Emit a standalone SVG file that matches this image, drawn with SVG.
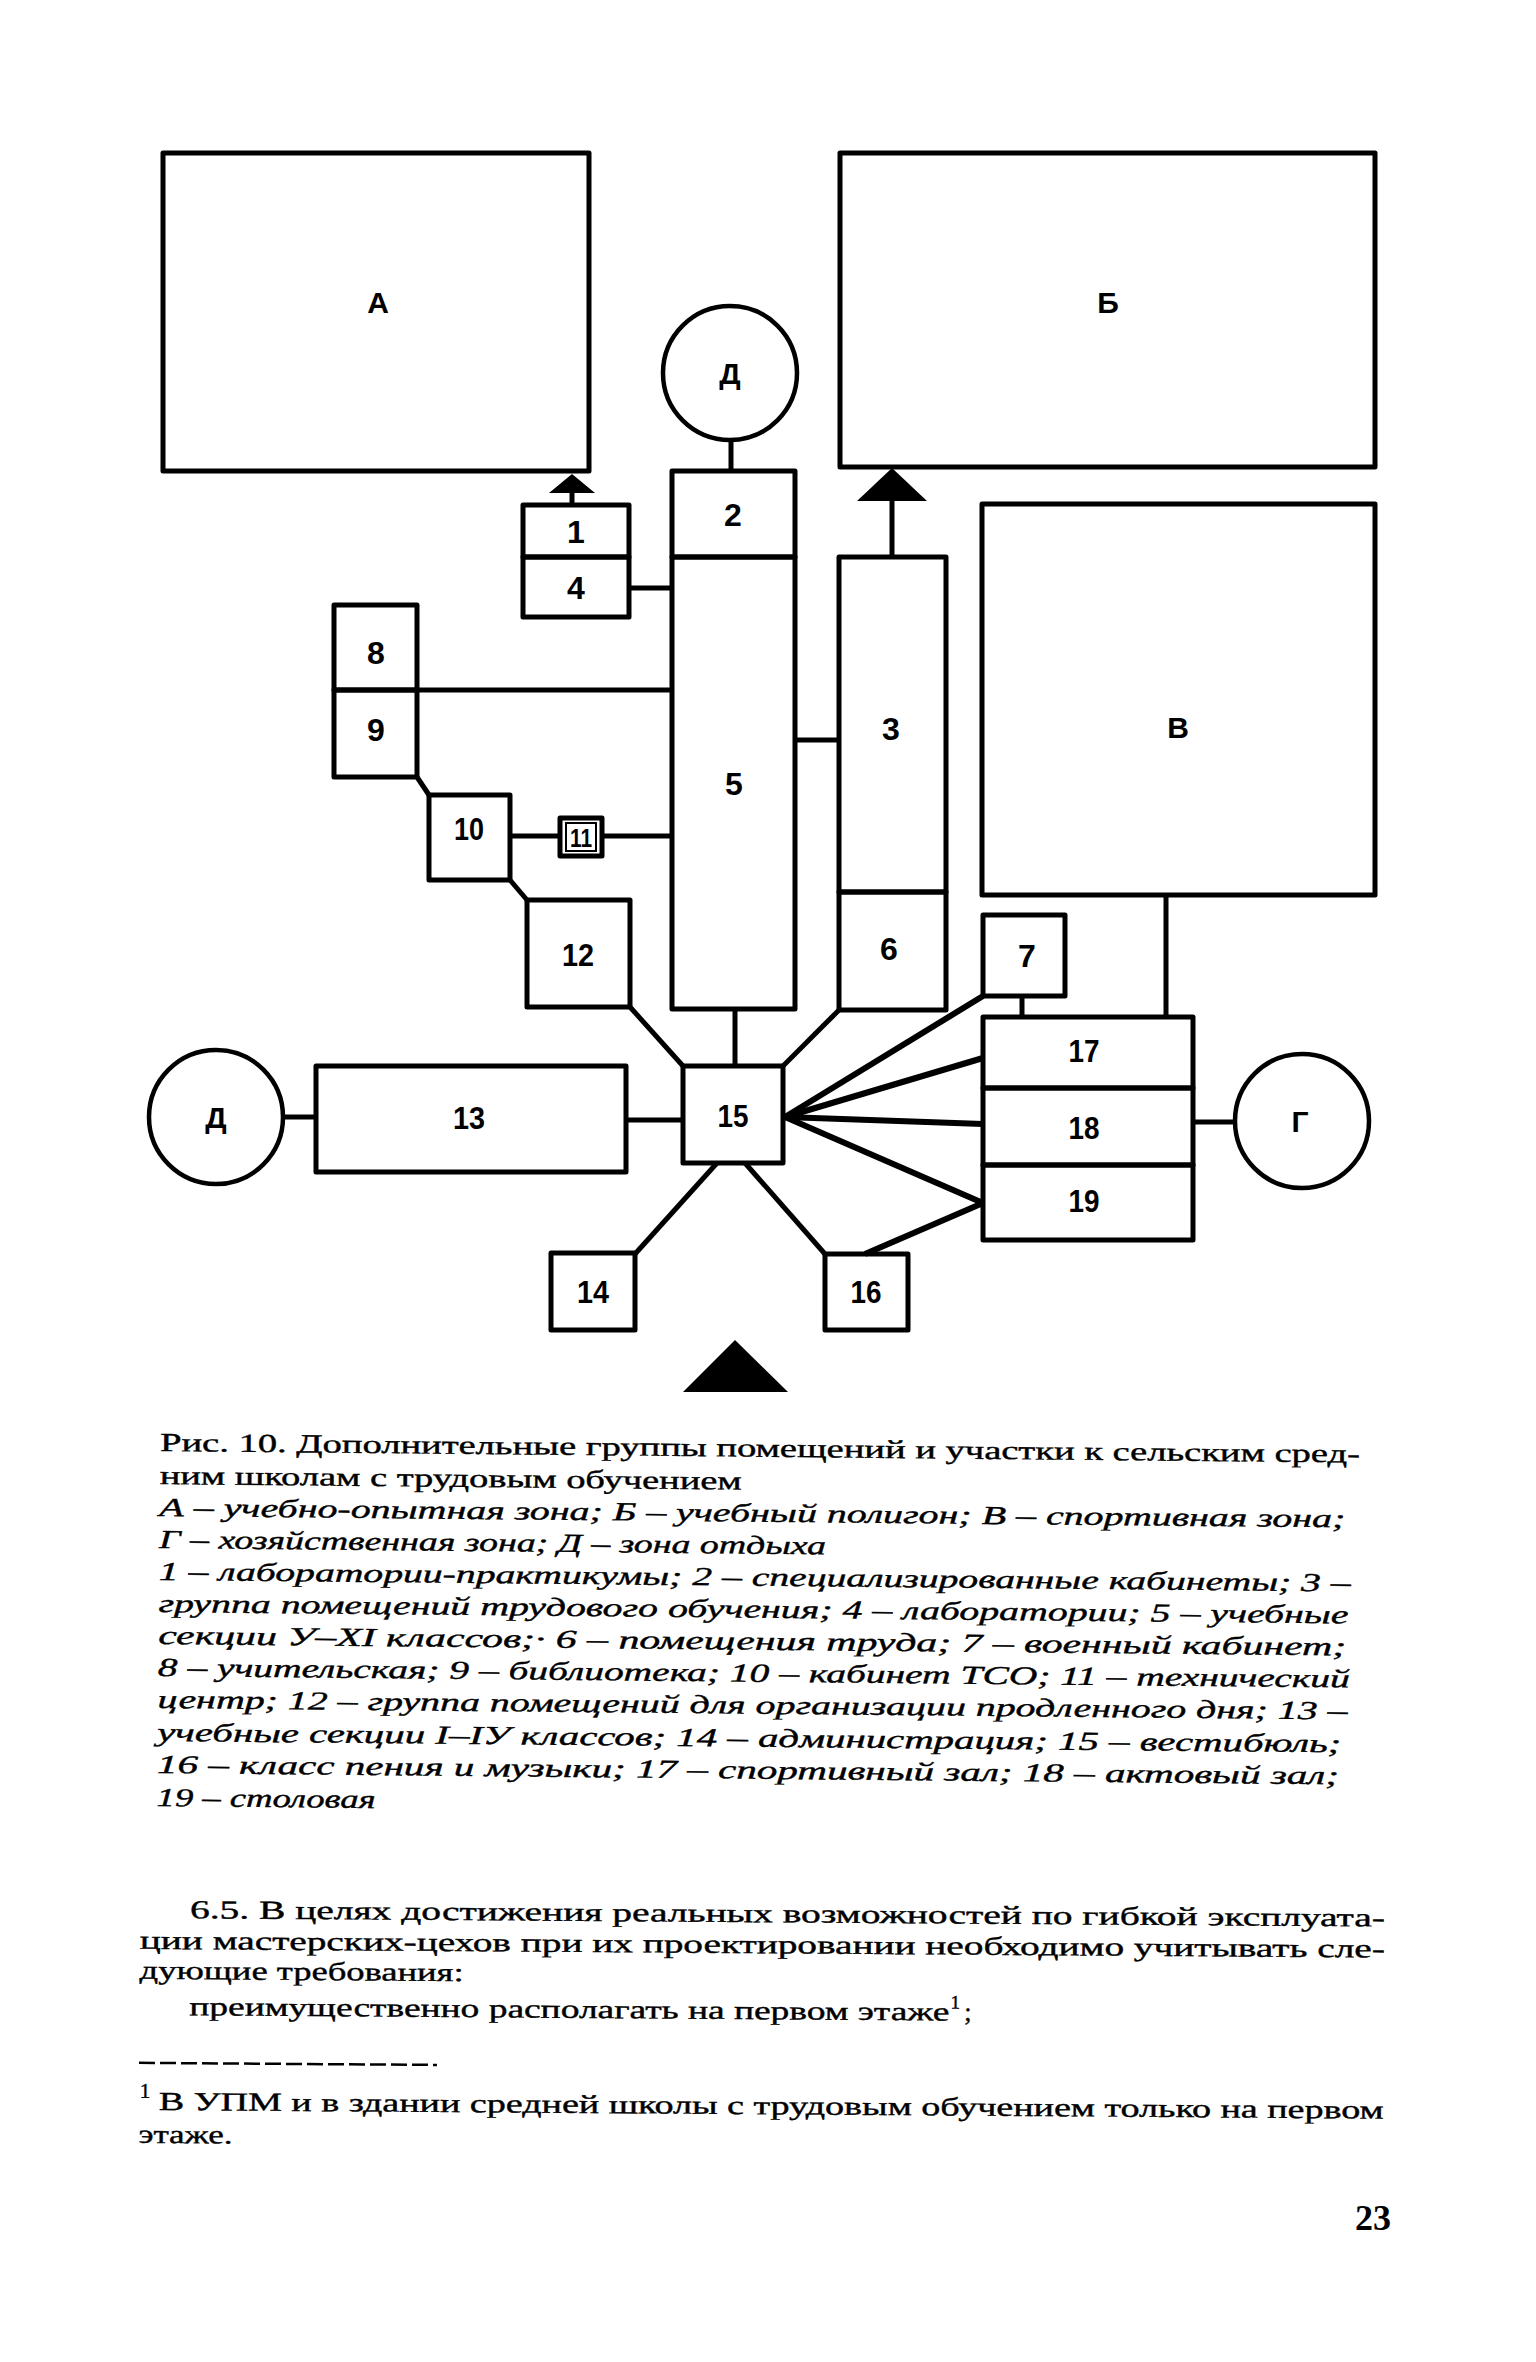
<svg xmlns="http://www.w3.org/2000/svg" width="1536" height="2362" viewBox="0 0 1536 2362">
<style>
.box{fill:none;stroke:#000;stroke-width:5;stroke-linejoin:round}
.circ{fill:none;stroke:#000;stroke-width:4.5}
.ln{fill:none;stroke:#000;stroke-width:5;stroke-linecap:butt}
.fan{fill:none;stroke:#000;stroke-width:6}
.tri{fill:#000;stroke:none}
.num{font-family:"Liberation Sans Narrow","Liberation Sans",Arial,sans-serif;font-weight:bold;font-size:32px;text-anchor:middle;fill:#000}
.let{font-family:"Liberation Sans","DejaVu Sans",Arial,sans-serif;font-weight:bold;font-size:30px;text-anchor:middle;fill:#000}
.cap{font-family:"Liberation Serif","Times New Roman",serif;font-size:26px;fill:#000;stroke:#000;stroke-width:0.4}
.it{font-style:italic}
.body{font-family:"Liberation Serif","Times New Roman",serif;font-size:26px;fill:#000;stroke:#000;stroke-width:0.4}
</style>
<rect width="1536" height="2362" fill="#fff"/>

<g id="connectors">
  <line class="ln" x1="572" y1="505" x2="572" y2="490"/>
  <polygon class="tri" points="572,474 549,493 595,493"/>
  <line class="ln" x1="892" y1="557" x2="892" y2="498"/>
  <polygon class="tri" points="892,468 857,501 927,501"/>
  <line class="ln" x1="731" y1="440" x2="731" y2="471"/>
  <line class="ln" x1="629" y1="588" x2="672" y2="588"/>
  <line class="ln" x1="417" y1="690" x2="672" y2="690"/>
  <line class="ln" x1="795" y1="740" x2="839" y2="740"/>
  <line class="ln" x1="417" y1="777" x2="429" y2="795"/>
  <line class="ln" x1="510" y1="836" x2="560" y2="836"/>
  <line class="ln" x1="602" y1="836" x2="672" y2="836"/>
  <line class="ln" x1="510" y1="880" x2="527" y2="900"/>
  <line class="ln" x1="630" y1="1007" x2="683" y2="1066"/>
  <line class="ln" x1="735" y1="1009" x2="735" y2="1066"/>
  <line class="ln" x1="839" y1="1010" x2="783" y2="1066"/>
  <line class="fan" x1="785" y1="1117" x2="983" y2="996"/>
  <line class="fan" x1="785" y1="1117" x2="983" y2="1058"/>
  <line class="fan" x1="785" y1="1117" x2="983" y2="1124"/>
  <line class="fan" x1="785" y1="1117" x2="983" y2="1203"/>
  <line class="fan" x1="983" y1="1203" x2="865" y2="1254"/>
  <line class="ln" x1="745" y1="1163" x2="825" y2="1254"/>
  <line class="ln" x1="717" y1="1163" x2="635" y2="1254"/>
  <line class="ln" x1="626" y1="1120" x2="683" y2="1120"/>
  <line class="ln" x1="283" y1="1117" x2="316" y2="1117"/>
  <line class="ln" x1="1022" y1="996" x2="1022" y2="1017"/>
  <line class="ln" x1="1166" y1="895" x2="1166" y2="1017"/>
  <line class="ln" x1="1193" y1="1122" x2="1234" y2="1122"/>
  <polygon class="tri" points="735,1340 683,1392 788,1392"/>
</g>

<g id="node-A"><rect class="box" x="163" y="153" width="426" height="318"/><text class="let" x="378" y="313">А</text></g>
<g id="node-B"><rect class="box" x="840" y="153" width="535" height="314"/><text class="let" x="1108" y="313">Б</text></g>
<g id="node-V"><rect class="box" x="982" y="504" width="393" height="391"/><text class="let" x="1178" y="738">В</text></g>
<g id="node-D-top"><circle class="circ" cx="730" cy="373" r="67"/><text class="let" x="730" y="384">Д</text></g>
<g id="node-D-left"><circle class="circ" cx="216" cy="1117" r="67"/><text class="let" x="216" y="1128">Д</text></g>
<g id="node-G"><circle class="circ" cx="1302" cy="1121" r="67"/><text class="let" x="1300" y="1132">Г</text></g>

<g id="node-1"><rect class="box" x="523" y="505" width="106" height="52"/><text class="num" x="576" y="543">1</text></g>
<g id="node-4"><rect class="box" x="523" y="557" width="106" height="60"/><text class="num" x="576" y="599">4</text></g>
<g id="node-2"><rect class="box" x="672" y="471" width="123" height="86"/><text class="num" x="733" y="526">2</text></g>
<g id="node-5"><rect class="box" x="672" y="557" width="123" height="452"/><text class="num" x="734" y="795">5</text></g>
<g id="node-3"><rect class="box" x="839" y="557" width="107" height="335"/><text class="num" x="891" y="740">3</text></g>
<g id="node-6"><rect class="box" x="839" y="892" width="107" height="118"/><text class="num" x="889" y="960">6</text></g>
<g id="node-7"><rect class="box" x="983" y="915" width="82" height="81"/><text class="num" x="1027" y="967">7</text></g>
<g id="node-8"><rect class="box" x="334" y="605" width="83" height="85"/><text class="num" x="376" y="664">8</text></g>
<g id="node-9"><rect class="box" x="334" y="690" width="83" height="87"/><text class="num" x="376" y="741">9</text></g>
<g id="node-10"><rect class="box" x="429" y="795" width="81" height="85"/><text class="num" x="469" y="840" textLength="30" lengthAdjust="spacingAndGlyphs">10</text></g>
<g id="node-11"><rect class="box" x="560" y="818" width="42" height="38"/><rect x="566" y="823" width="30" height="28" fill="none" stroke="#000" stroke-width="2"/><text class="num" x="581" y="847" style="font-size:26px" textLength="22" lengthAdjust="spacingAndGlyphs">11</text></g>
<g id="node-12"><rect class="box" x="527" y="900" width="103" height="107"/><text class="num" x="578" y="966" textLength="32" lengthAdjust="spacingAndGlyphs">12</text></g>
<g id="node-13"><rect class="box" x="316" y="1066" width="310" height="106"/><text class="num" x="469" y="1129" textLength="32" lengthAdjust="spacingAndGlyphs">13</text></g>
<g id="node-14"><rect class="box" x="551" y="1253" width="84" height="77"/><text class="num" x="593" y="1303" textLength="32" lengthAdjust="spacingAndGlyphs">14</text></g>
<g id="node-15"><rect class="box" x="683" y="1066" width="100" height="97"/><text class="num" x="733" y="1127" textLength="31" lengthAdjust="spacingAndGlyphs">15</text></g>
<g id="node-16"><rect class="box" x="825" y="1254" width="83" height="76"/><text class="num" x="866" y="1303" textLength="31" lengthAdjust="spacingAndGlyphs">16</text></g>
<g id="node-17"><rect class="box" x="983" y="1017" width="210" height="71"/><text class="num" x="1084" y="1062" textLength="31" lengthAdjust="spacingAndGlyphs">17</text></g>
<g id="node-18"><rect class="box" x="983" y="1088" width="210" height="77"/><text class="num" x="1084" y="1139" textLength="31" lengthAdjust="spacingAndGlyphs">18</text></g>
<g id="node-19"><rect class="box" x="983" y="1165" width="210" height="75"/><text class="num" x="1084" y="1212" textLength="31" lengthAdjust="spacingAndGlyphs">19</text></g>

<g id="caption" transform="rotate(0.55 160 1450)">
  <text class="cap" x="160" y="1451" textLength="1200" lengthAdjust="spacingAndGlyphs">Рис. 10. Дополнительные группы помещений и участки к сельским сред-</text>
  <text class="cap" x="160" y="1484" textLength="582" lengthAdjust="spacingAndGlyphs">ним школам с трудовым обучением</text>
  <text class="cap it" x="160" y="1516" textLength="1186" lengthAdjust="spacingAndGlyphs">А – учебно-опытная зона;  Б – учебный полигон;  В – спортивная зона;</text>
  <text class="cap it" x="160" y="1548" textLength="667" lengthAdjust="spacingAndGlyphs">Г – хозяйственная зона; Д – зона отдыха</text>
  <text class="cap it" x="160" y="1580" textLength="1192" lengthAdjust="spacingAndGlyphs">1 – лаборатории-практикумы;  2 – специализированные кабинеты;  3 –</text>
  <text class="cap it" x="160" y="1612" textLength="1190" lengthAdjust="spacingAndGlyphs">группа помещений трудового обучения;  4 – лаборатории;  5 – учебные</text>
  <text class="cap it" x="160" y="1644" textLength="1188" lengthAdjust="spacingAndGlyphs">секции У–ХI классов;·  6 – помещения труда;  7 – военный кабинет;</text>
  <text class="cap it" x="160" y="1676" textLength="1192" lengthAdjust="spacingAndGlyphs">8 – учительская;  9 – библиотека;  10 – кабинет ТСО;  11 – технический</text>
  <text class="cap it" x="160" y="1708" textLength="1190" lengthAdjust="spacingAndGlyphs">центр;  12 – группа помещений для организации продленного дня;  13 –</text>
  <text class="cap it" x="160" y="1741" textLength="1184" lengthAdjust="spacingAndGlyphs">учебные секции I–IУ классов;  14 – администрация;  15 – вестибюль;</text>
  <text class="cap it" x="160" y="1773" textLength="1182" lengthAdjust="spacingAndGlyphs">16 – класс пения и музыки;  17 – спортивный зал; 18 – актовый зал;</text>
  <text class="cap it" x="160" y="1806" textLength="219" lengthAdjust="spacingAndGlyphs">19 – столовая</text>
</g>

<g id="body-text" transform="rotate(0.4 160 1918)">
  <text class="body" x="190" y="1918" textLength="1195" lengthAdjust="spacingAndGlyphs">6.5. В целях достижения реальных возможностей по гибкой эксплуата-</text>
  <text class="body" x="140" y="1949" textLength="1245" lengthAdjust="spacingAndGlyphs">ции мастерских-цехов при их проектировании необходимо учитывать сле-</text>
  <text class="body" x="140" y="1979" textLength="324" lengthAdjust="spacingAndGlyphs">дующие требования:</text>
  <text class="body" x="190" y="2015" textLength="760" lengthAdjust="spacingAndGlyphs">преимущественно располагать на первом этаже</text>
  <text class="body" x="951" y="2003" style="font-size:19px">1</text>
  <text class="body" x="965" y="2015">;</text>
  <line x1="140" y1="2063" x2="438" y2="2063" stroke="#000" stroke-width="2.5" stroke-dasharray="16 5"/>
  <text class="body" x="141" y="2098" style="font-size:21px">1</text>
  <text class="body" x="160" y="2110" textLength="1225" lengthAdjust="spacingAndGlyphs">В УПМ и в здании средней школы с трудовым обучением только на первом</text>
  <text class="body" x="140" y="2143" textLength="94" lengthAdjust="spacingAndGlyphs">этаже.</text>
</g>
<text x="1355" y="2230" style="font-family:'Liberation Serif','Times New Roman',serif;font-weight:bold;font-size:36px">23</text>
</svg>
